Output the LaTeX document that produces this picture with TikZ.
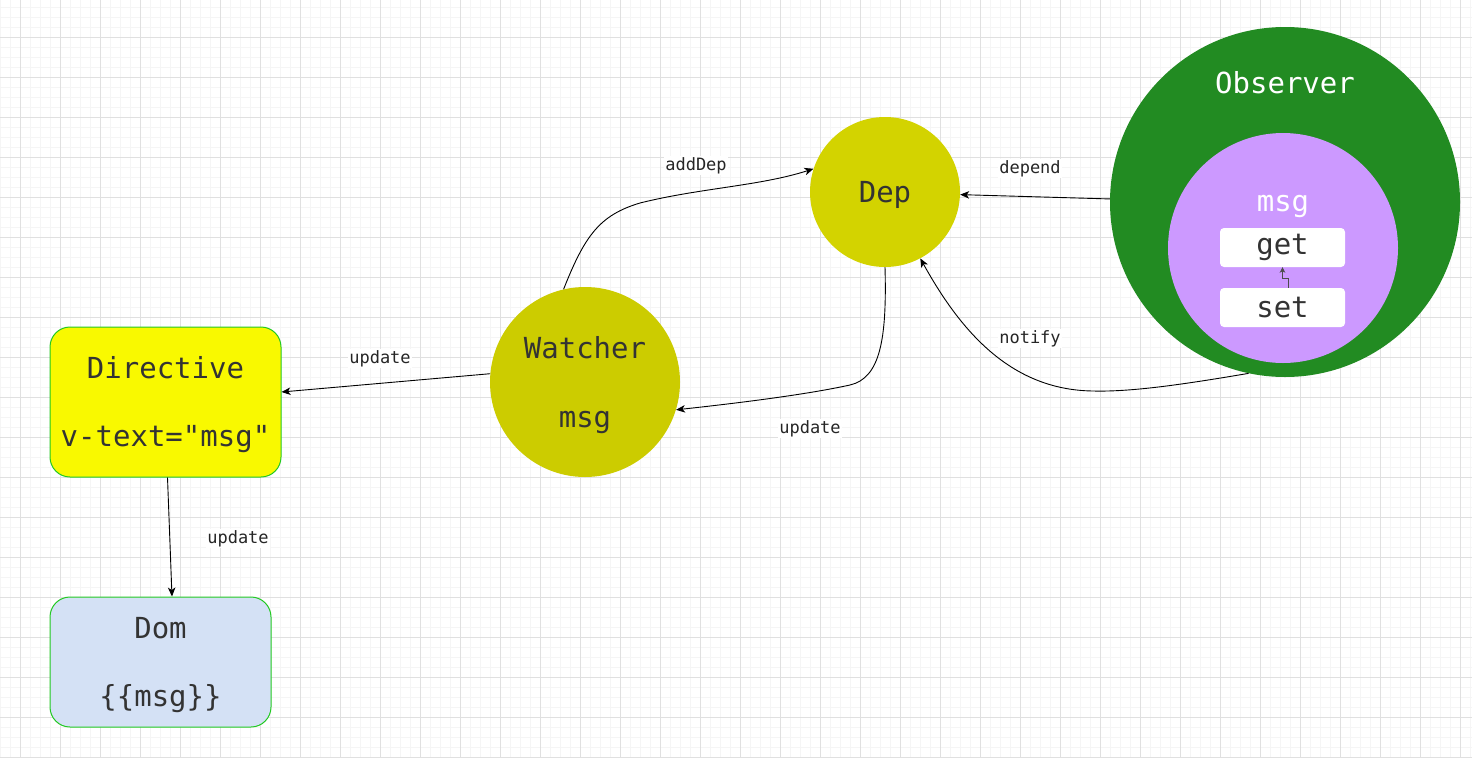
\documentclass[tikz,border=0pt]{standalone}
\usepackage{fontspec}
\setmainfont{DejaVu Sans Mono}
\newfontfamily\plainmono{DejaVu Sans Mono}
\usetikzlibrary{arrows.meta}
\definecolor{gridminor}{HTML}{F5F5F5}
\definecolor{gridmajor}{HTML}{E0E0E0}
\definecolor{txtdark}{HTML}{333333}
\definecolor{diryellow}{HTML}{F9F900}
\definecolor{boxgreen}{HTML}{22C922}
\definecolor{domblue}{HTML}{D4E1F5}
\definecolor{watcherc}{HTML}{CCCC00}
\definecolor{depc}{HTML}{D3D300}
\definecolor{obsgreen}{HTML}{228B22}
\definecolor{msgpurple}{HTML}{CC99FF}
\begin{document}
\begin{tikzpicture}[x=1pt,y=-1pt,
  bigtxt/.style={font=\plainmono\fontsize{29}{32}\selectfont, text=txtdark, inner sep=0pt, yshift=-1.5pt},
  whitetxt/.style={font=\plainmono\fontsize{29}{32}\selectfont, text=white, inner sep=0pt, yshift=-1.5pt},
  lbl/.style={font=\plainmono\fontsize{17}{19}\selectfont, fill=white, inner sep=1.5pt, text=black!85, yshift=-1.5pt},
  conn/.style={draw=black, line width=0.9pt, -{Stealth[length=9pt,width=7.5pt,inset=2.5pt]}},
  smallconn/.style={draw=black!70, line width=0.9pt, -{Stealth[length=5.5pt,width=5.5pt,inset=1.5pt]}},
  rbox/.style={draw=boxgreen, line width=1pt, rounded corners=20pt, inner sep=0pt},
  circ/.style={circle, inner sep=0pt, draw=none},
  wbox/.style={fill=white, rounded corners=4pt, inner sep=0pt, minimum width=125pt, minimum height=39pt, font=\plainmono\fontsize{29}{32}\selectfont, text=txtdark}
]
\useasboundingbox (0,0) rectangle (1472,758);
\fill[white] (0,0) rectangle (1472,758);
% grid
\foreach \x in {0,10,...,1470} \draw[gridminor, line width=0.8pt] (\x,0) -- (\x,758);
\foreach \y in {7,17,...,757} \draw[gridminor, line width=0.8pt] (0,\y) -- (1472,\y);
\foreach \x in {20,60,...,1460} \draw[gridmajor, line width=1pt] (\x,0) -- (\x,758);
\foreach \y in {37,77,...,757} \draw[gridmajor, line width=1pt] (0,\y) -- (1472,\y);

% Directive
\node[rbox, fill=diryellow, minimum width=231pt, minimum height=150pt] (dir) at (165.5,402) {};
\node[bigtxt] (dirt1) at (165.5,366) {Directive};
\node[bigtxt] (dirt2) at (165.5,438) {v-text="msg"};

% Dom
\node[rbox, fill=domblue, minimum width=221pt, minimum height=130pt] (dom) at (160.5,662) {};
\node[bigtxt] (domt1) at (160.5,627) {Dom};
\node[bigtxt] (domt2) at (160.5,697) {\{\{msg\}\}};

% Watcher
\node[circ, fill=watcherc, minimum size=190pt] (wat) at (585,382) {};
\node[bigtxt] (watt1) at (585,346) {Watcher};
\node[bigtxt] (watt2) at (585,421) {msg};

% Dep
\node[circ, fill=depc, minimum size=150pt] (dep) at (885,192) {};
\node[bigtxt] (dept) at (885,193) {Dep};

% Observer
\node[circ, fill=obsgreen, minimum size=350pt] (obs) at (1285,202) {};
\node[whitetxt] (obst) at (1285,81) {Observer};
\node[circ, fill=msgpurple, minimum size=230pt] (msgc) at (1283,248) {};
\node[whitetxt] (msgt) at (1283,205) {msg};
\node[wbox] (get) at (1282.5,247.5) {get};
\node[wbox] (set) at (1282.5,307.5) {set};
\draw[smallconn] ([xshift=5.5pt]set.north) -- ++(0,-9) -| (get.south);

% connectors
\draw[conn] (wat.175) -- ([yshift=10pt]dir.east);
\node[lbl] (l1) at (380,357) {update};

\draw[conn] (wat.103) .. controls (585,235) and (600,215) .. (640,203)
  .. controls (700,188) and (760,186) .. (dep.162);
\node[lbl] (l2) at (696,164) {addDep};

\draw[conn] (dep.south) .. controls (887,340) and (880,378) .. (850,385)
  .. controls (800,396) and (720,405) .. (wat.-17);
\node[lbl] (l3) at (810,427) {update};

\draw[conn] (obs.179) -- (dep.-2);
\node[lbl] (l4) at (1030,167) {depend};

\draw[conn] (obs.-102) .. controls (1180,385) and (1130,392) .. (1093,391)
  .. controls (1010,390) and (960,330) .. (dep.-62);
\node[lbl] (l5) at (1030,337) {notify};

\draw[conn] ([xshift=2pt]dir.south) -- ([xshift=11.5pt]dom.north);
\node[lbl] (l6) at (238,537) {update};
\end{tikzpicture}
\end{document}
